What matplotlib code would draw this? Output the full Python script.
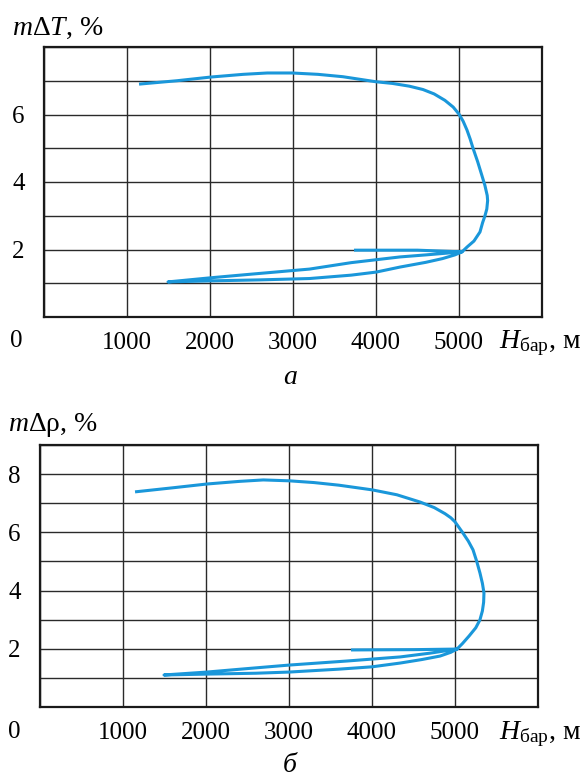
import matplotlib
matplotlib.use("Agg")
import matplotlib.pyplot as plt

plt.rcParams['font.family'] = ['Liberation Serif', 'DejaVu Serif']
plt.rcParams['mathtext.fontset'] = 'custom'
plt.rcParams['mathtext.rm'] = 'Liberation Serif'
plt.rcParams['mathtext.it'] = 'Liberation Serif:italic'

# x ticks (H_bar, m) and y ticks
x_ticks = [0, 1000, 2000, 3000, 4000, 5000, 6000]
x_labels = ['', '1000', '2000', '3000', '4000', '5000', '']

# panel a: m*dT, %
h_a = [1145, 1600, 2010, 2400, 2690, 2990, 3300, 3600, 4000, 4200, 4400, 4566, 4700, 4830, 4930, 5000,
       5050, 5096, 5135, 5169, 5225, 5275, 5312, 5340, 5345, 5335, 5313, 5285, 5253, 5180, 5100, 5036,
       4600, 4290, 3700, 3200, 2500, 2000, 1494,
       2000, 2600, 3200, 3700, 4000, 4290, 4600, 4800, 4950, 5036,
       4500, 3735]
t_a = [6.90, 7.00, 7.11, 7.19, 7.23, 7.23, 7.19, 7.12, 6.97, 6.92, 6.84, 6.74, 6.61, 6.42, 6.22, 6.01,
       5.80, 5.54, 5.27, 5.00, 4.60, 4.20, 3.90, 3.60, 3.45, 3.20, 3.00, 2.80, 2.52, 2.25, 2.08, 1.93,
       1.84, 1.78, 1.61, 1.42, 1.27, 1.16, 1.04,
       1.07, 1.10, 1.14, 1.24, 1.33, 1.48, 1.62, 1.73, 1.84, 1.93,
       1.98, 1.98]

# panel b: m*drho, %
h_b = [1145, 1600, 2010, 2400, 2690, 3000, 3300, 3600, 4000, 4300, 4580, 4750, 4880, 4950, 5000,
       5090, 5160, 5217, 5262, 5301, 5330, 5349, 5345, 5330, 5300, 5250, 5170, 5090, 5024,
       4700, 4340, 3700, 3000, 2500, 2010, 1494,
       2010, 2600, 3000, 3600, 4000, 4340, 4600, 4820, 4950, 5024,
       4500, 3747]
r_b = [7.39, 7.53, 7.66, 7.75, 7.80, 7.77, 7.71, 7.62, 7.46, 7.29, 7.04, 6.85, 6.64, 6.50, 6.36,
       6.00, 5.70, 5.40, 5.00, 4.60, 4.25, 3.92, 3.60, 3.30, 2.99, 2.72, 2.44, 2.18, 1.99,
       1.85, 1.72, 1.58, 1.44, 1.32, 1.20, 1.10,
       1.13, 1.16, 1.20, 1.30, 1.38, 1.51, 1.63, 1.75, 1.88, 1.99,
       1.97, 1.96]

W, H = 582, 778
fig = plt.figure(figsize=(W / 100, H / 100), dpi=100)

line_color = '#1a97da'
fs = 18
fs_lab = 20


def panel(rect, xs, ys, ymax, ylabels, ylab, ylab_pos, zero_pos):
    ax = fig.add_axes(rect)
    ax.plot(xs, ys, color=line_color, lw=2.2, solid_joinstyle='round',
            solid_capstyle='butt', zorder=3)
    ax.set_xlim(0, 6000)
    ax.set_ylim(0, ymax)
    ax.set_xticks(x_ticks)
    ax.set_xticklabels(x_labels)
    ax.set_yticks(range(0, ymax + 1))
    ax.set_yticklabels([str(v) if v in ylabels else '' for v in range(0, ymax + 1)])
    ax.tick_params(length=0, labelsize=fs, pad=11)
    ax.tick_params(axis='y', pad=14)
    ax.grid(True, color='#2a2a2a', lw=1.0)
    for s in ax.spines.values():
        s.set_linewidth(1.6)
        s.set_color('#1a1a1a')
    # corner zero, axis names
    fig.text(zero_pos[0] / W, 1 - zero_pos[1] / H, '0', fontsize=fs, ha='center', va='center')
    fig.text(499 / W, 1 - (zero_pos[1] + 2) / H, r'$H_{\mathrm{бар}}$, м', fontsize=fs_lab,
             ha='left', va='center')
    fig.text(ylab_pos[0] / W, 1 - ylab_pos[1] / H, ylab, fontsize=fs_lab, ha='left', va='center')
    return ax


panel([44 / W, 1 - 317 / H, 498 / W, 270 / H], h_a, t_a, 8, [2, 4, 6],
      r'$m$Δ$T$, %', (12, 28), (16, 341))
fig.text(290 / W, 1 - 378 / H, 'а', fontsize=fs_lab, style='italic', ha='center', va='center')

panel([40 / W, 1 - 707 / H, 498 / W, 262 / H], h_b, r_b, 9, [2, 4, 6, 8],
      r'$m$Δρ, %', (8, 425), (14, 732))
fig.text(290 / W, 1 - 765 / H, 'б', fontsize=fs_lab, style='italic', ha='center', va='center')

fig.savefig('out.png', dpi=100)
